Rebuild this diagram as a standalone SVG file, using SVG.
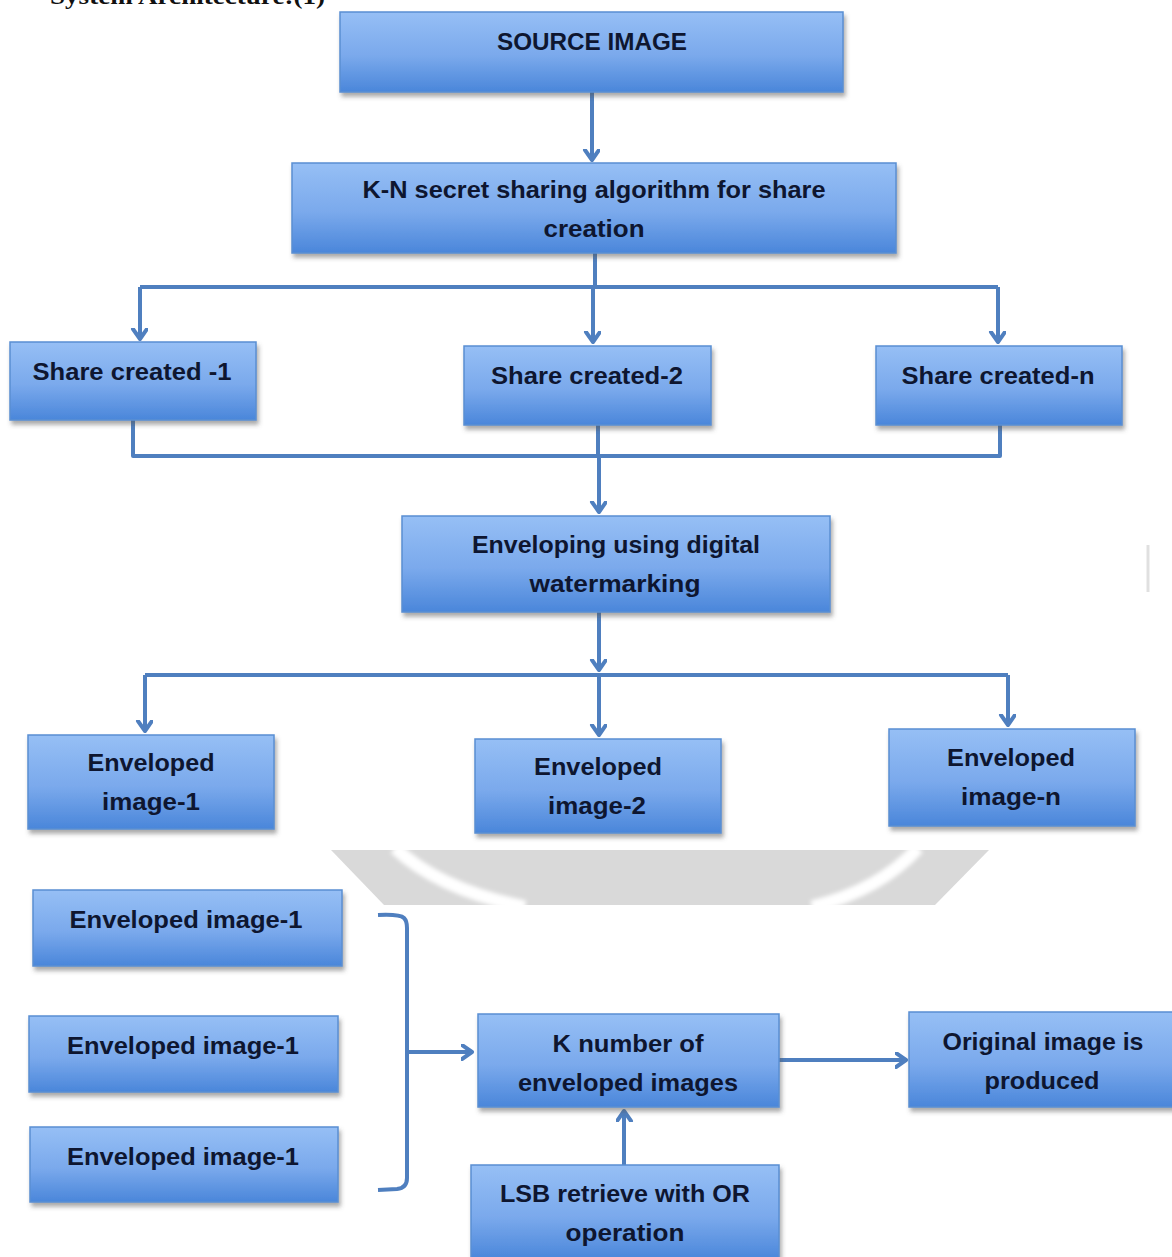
<svg xmlns="http://www.w3.org/2000/svg" width="1172" height="1257" viewBox="0 0 1172 1257">
<defs>
<linearGradient id="g" x1="0" y1="0" x2="0" y2="1">
<stop offset="0" stop-color="#96bff5"/>
<stop offset="0.55" stop-color="#7aa9ec"/>
<stop offset="1" stop-color="#4a86da"/>
</linearGradient>
<filter id="sh" x="-5%" y="-10%" width="115%" height="135%">
<feDropShadow dx="2" dy="4" stdDeviation="2" flood-color="#555" flood-opacity="0.5"/>
</filter>
<filter id="blur"><feGaussianBlur stdDeviation="2"/></filter>
<marker id="ar" markerUnits="userSpaceOnUse" markerWidth="20" markerHeight="20" refX="11" refY="8" orient="auto">
<path d="M1,1 L11,8 L1,15" fill="none" stroke="#4f7fbf" stroke-width="4" stroke-linecap="round" stroke-linejoin="round"/>
</marker>
<style>
.box{fill:url(#g);stroke:#5a8fd2;stroke-width:1.5;filter:url(#sh)}
.t{font-family:"Liberation Sans",Arial,sans-serif;font-weight:bold;font-size:24px;fill:#0e1630;text-anchor:middle}
.c{fill:none;stroke:#4f7fbf;stroke-width:4;stroke-linejoin:round}
</style>
</defs>
<rect width="1172" height="1257" fill="#ffffff"/>
<text x="50" y="4" font-family="'Liberation Serif',serif" font-weight="bold" font-size="24" textLength="275" lengthAdjust="spacingAndGlyphs" fill="#111">System Architecture:(1)</text>

<g id="watermark">
<polygon points="331,850 989,850 935,905 384,905" fill="#d9d9d9"/>
<g filter="url(#blur)">
<path d="M395,848 Q440,890 525,907" fill="none" stroke="#fff" stroke-width="13"/>
<path d="M918,848 Q880,890 812,907" fill="none" stroke="#fff" stroke-width="13"/>
</g>
<rect x="320" y="905" width="700" height="10" fill="#fff"/>
<rect x="320" y="840" width="700" height="10" fill="#fff"/>
<line x1="1148" y1="545" x2="1148" y2="592" stroke="#e0e0e0" stroke-width="3"/>
</g>

<g id="connectors">
<path class="c" d="M592,92 V160" marker-end="url(#ar)"/>
<path class="c" d="M595,253 V287"/>
<path class="c" d="M140,287 H998"/>
<path class="c" d="M140,287 V339" marker-end="url(#ar)"/>
<path class="c" d="M593,287 V342" marker-end="url(#ar)"/>
<path class="c" d="M998,287 V342" marker-end="url(#ar)"/>
<path class="c" d="M133,420 V456 H1000 V425"/>
<path class="c" d="M598,425 V456"/>
<path class="c" d="M599,456 V512" marker-end="url(#ar)"/>
<path class="c" d="M599,612 V670" marker-end="url(#ar)"/>
<path class="c" d="M145,675 H1008"/>
<path class="c" d="M145,675 V731" marker-end="url(#ar)"/>
<path class="c" d="M599,675 V735" marker-end="url(#ar)"/>
<path class="c" d="M1008,675 V725" marker-end="url(#ar)"/>
<path class="c" d="M378,915 Q400,914 404,918 Q407,921 407,928 V1178 Q407,1188 397,1189 L378,1190"/>
<path class="c" d="M407,1052 H472" marker-end="url(#ar)"/>
<path class="c" d="M779,1060 H906" marker-end="url(#ar)"/>
<path class="c" d="M624,1165 V1111" marker-end="url(#ar)"/>
</g>

<g id="source"><rect class="box" x="340" y="12" width="503" height="80"/><text class="t" x="592" y="50" textLength="190" lengthAdjust="spacingAndGlyphs">SOURCE IMAGE</text></g>
<g id="kn"><rect class="box" x="292" y="163" width="604" height="90"/><text class="t" x="594" y="198" textLength="463" lengthAdjust="spacingAndGlyphs">K-N secret sharing algorithm for share</text><text class="t" x="594" y="237" textLength="101" lengthAdjust="spacingAndGlyphs">creation</text></g>
<g id="share1"><rect class="box" x="10" y="342" width="246" height="78"/><text class="t" x="132" y="380" textLength="199" lengthAdjust="spacingAndGlyphs">Share created -1</text></g>
<g id="share2"><rect class="box" x="464" y="346" width="247" height="79"/><text class="t" x="587" y="384" textLength="192" lengthAdjust="spacingAndGlyphs">Share created-2</text></g>
<g id="sharen"><rect class="box" x="876" y="346" width="246" height="79"/><text class="t" x="998" y="384" textLength="193" lengthAdjust="spacingAndGlyphs">Share created-n</text></g>
<g id="envelop"><rect class="box" x="402" y="516" width="428" height="96"/><text class="t" x="616" y="553" textLength="288" lengthAdjust="spacingAndGlyphs">Enveloping using digital</text><text class="t" x="615" y="592" textLength="171" lengthAdjust="spacingAndGlyphs">watermarking</text></g>
<g id="env1"><rect class="box" x="28" y="735" width="246" height="94"/><text class="t" x="151" y="771" textLength="127" lengthAdjust="spacingAndGlyphs">Enveloped</text><text class="t" x="151" y="810" textLength="98" lengthAdjust="spacingAndGlyphs">image-1</text></g>
<g id="env2"><rect class="box" x="475" y="739" width="246" height="94"/><text class="t" x="598" y="775" textLength="128" lengthAdjust="spacingAndGlyphs">Enveloped</text><text class="t" x="597" y="814" textLength="98" lengthAdjust="spacingAndGlyphs">image-2</text></g>
<g id="envn"><rect class="box" x="889" y="729" width="246" height="97"/><text class="t" x="1011" y="766" textLength="128" lengthAdjust="spacingAndGlyphs">Enveloped</text><text class="t" x="1011" y="805" textLength="100" lengthAdjust="spacingAndGlyphs">image-n</text></g>
<g id="enva"><rect class="box" x="33" y="890" width="309" height="76"/><text class="t" x="186" y="928" textLength="233" lengthAdjust="spacingAndGlyphs">Enveloped image-1</text></g>
<g id="envb"><rect class="box" x="29" y="1016" width="309" height="76"/><text class="t" x="183" y="1054" textLength="232" lengthAdjust="spacingAndGlyphs">Enveloped image-1</text></g>
<g id="envc"><rect class="box" x="30" y="1127" width="308" height="75"/><text class="t" x="183" y="1165" textLength="232" lengthAdjust="spacingAndGlyphs">Enveloped image-1</text></g>
<g id="knum"><rect class="box" x="478" y="1014" width="301" height="93"/><text class="t" x="628" y="1052" textLength="151" lengthAdjust="spacingAndGlyphs">K number of</text><text class="t" x="628" y="1091" textLength="220" lengthAdjust="spacingAndGlyphs">enveloped images</text></g>
<g id="orig"><rect class="box" x="909" y="1012" width="265" height="95"/><text class="t" x="1043" y="1050" textLength="201" lengthAdjust="spacingAndGlyphs">Original image is</text><text class="t" x="1042" y="1089" textLength="115" lengthAdjust="spacingAndGlyphs">produced</text></g>
<g id="lsb"><rect class="box" x="471" y="1165" width="308" height="95"/><text class="t" x="625" y="1202" textLength="250" lengthAdjust="spacingAndGlyphs">LSB retrieve with OR</text><text class="t" x="625" y="1241" textLength="119" lengthAdjust="spacingAndGlyphs">operation</text></g>
</svg>
